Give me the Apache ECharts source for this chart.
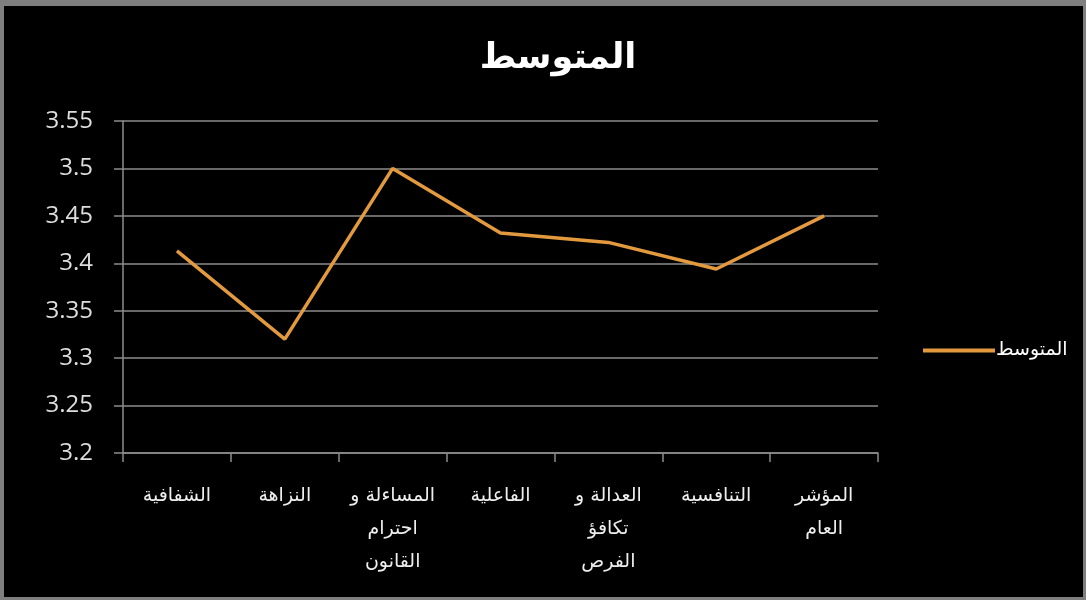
<!DOCTYPE html>
<html><head><meta charset="utf-8">
<script src="https://cdn.jsdelivr.net/npm/echarts@6/dist/echarts.min.js"></script>
<style>
html,body{margin:0;padding:0;background:#000;}
#c{width:1086px;height:600px;position:relative;}
#frame{position:absolute;left:0;top:0;width:1086px;height:600px;box-sizing:border-box;border-left:4px solid #7f7f7f;border-top:6px solid #7f7f7f;border-right:3px solid #7f7f7f;border-bottom:3px solid #7f7f7f;pointer-events:none;}
</style></head>
<body>
<div style="position:relative;width:1086px;height:600px;">
<div id="c"></div><div id="frame"></div>
</div>
<script>
const titleText = 'المتوسط';
const seriesName = 'المتوسط';
const categories = ['الشفافية', 'النزاهة', 'المساءلة و\nاحترام\nالقانون', 'الفاعلية', 'العدالة و\nتكافؤ\nالفرص', 'التنافسية', 'المؤشر\nالعام'];
const values = [3.413, 3.32, 3.50, 3.432, 3.422, 3.394, 3.45];
const yMin = 3.2, yMax = 3.55, yStep = 0.05;

const chart = echarts.init(document.getElementById('c'));
chart.setOption({
  backgroundColor: '#000',
  animation: false,
  title: {
    text: titleText, left: 553, top: 36, textAlign: 'center',
    textStyle: {color: '#fff', fontSize: 35, fontWeight: 'bold', fontFamily: 'DejaVu Sans'}
  },
  legend: {
    data: [seriesName], left: 918, top: 336, icon: 'rect', itemWidth: 72, itemHeight: 4, itemGap: 0,
    textStyle: {color: '#fff', fontSize: 19, fontFamily: 'DejaVu Sans', padding: [0,0,0,-4]}
  },
  grid: {left: 123, right: 208, top: 121, bottom: 147, containLabel: false},
  xAxis: {
    type: 'category', data: categories, boundaryGap: true,
    axisLine: {lineStyle: {color: '#8c8c8c', width: 1.5}},
    axisTick: {show: true, length: 9, inside: false, lineStyle: {color: '#8c8c8c', width: 1.5}},
    axisLabel: {color: '#eee', fontSize: 19, fontFamily: 'DejaVu Sans', lineHeight: 33, margin: 27, interval: 0}
  },
  yAxis: {
    type: 'value', min: yMin, max: yMax, interval: yStep,
    axisLine: {show: true, lineStyle: {color: '#8c8c8c', width: 1.5}},
    axisTick: {show: true, length: 9, lineStyle: {color: '#8c8c8c', width: 1.5}},
    splitLine: {lineStyle: {color: '#8c8c8c', width: 1.5}},
    axisLabel: {color: '#ddd', fontSize: 24, fontFamily: 'Open Sans', margin: 30,
      formatter: v => String(+v.toFixed(2))}
  },
  series: [{
    name: seriesName, type: 'line', data: values, symbol: 'none',
    lineStyle: {color: '#E39A3E', width: 3.5}, itemStyle: {color: '#E39A3E'}
  }]
});
</script>
</body></html>
